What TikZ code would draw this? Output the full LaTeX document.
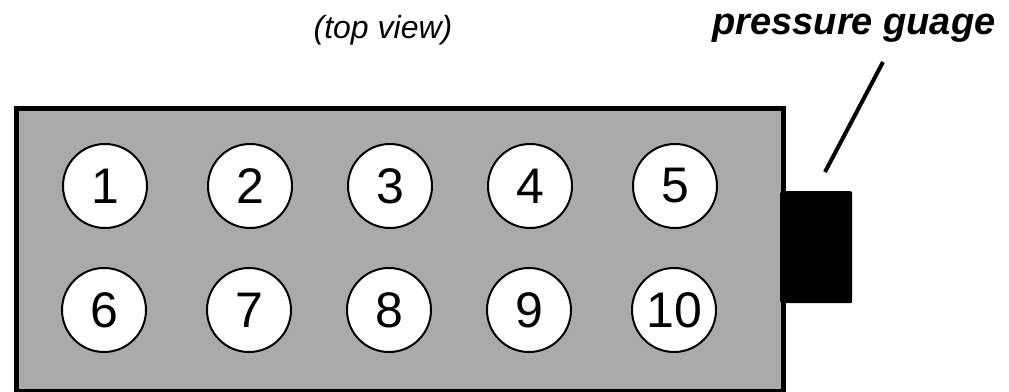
\documentclass[tikz,border=0pt]{standalone}
\usepackage{fontspec}
\setmainfont{Liberation Sans}
\definecolor{blockgray}{HTML}{AAAAAA}
\begin{document}
\begin{tikzpicture}[x=1pt,y=-1pt,
  cyl/.style={circle,draw=black,line width=2pt,fill=white,minimum size=84pt,inner sep=0pt,
    font=\fontsize{50}{60}\selectfont},
  lbl/.style={anchor=base,inner sep=0pt}]
\useasboundingbox (0,0) rectangle (1009,391);
\node[draw=black,line width=5pt,fill=blockgray,minimum width=766.5pt,minimum height=282.5pt,
  inner sep=0pt,anchor=north west] (block) at (14,106) {};
\node[fill=black,rounded corners=2pt,minimum width=72pt,minimum height=112pt,inner sep=0pt,
  anchor=north west] (gauge) at (780,191) {};
\foreach \n/\x/\y in {1/105/186,2/250/186,3/390/186,4/530/186,5/675/186,
                      6/104/310,7/249/310,8/389/310,9/529/310,10/674/310}{
  \node[cyl] (c\n) at (\x,\y) {\n};
}
\node[lbl,font=\itshape\fontsize{32}{38}\selectfont] (top) at (383,38) {(top view)};
\node[lbl,font=\bfseries\itshape\fontsize{38}{46}\selectfont] (pg) at (854,34) {pressure guage};
\coordinate (lt) at (883,62);
\coordinate (lb) at (825,172);
\draw[line width=4pt] (lt) -- (lb);
\end{tikzpicture}
\end{document}
